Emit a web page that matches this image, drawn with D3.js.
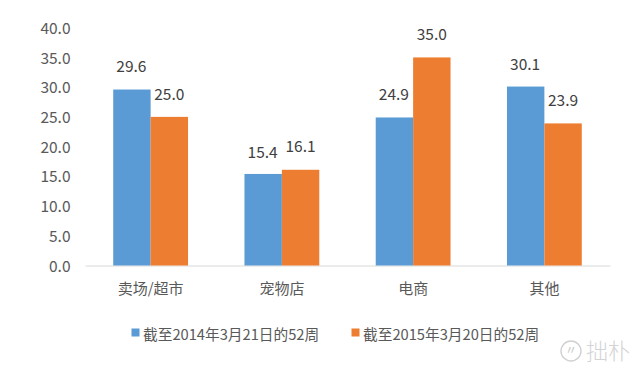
<!DOCTYPE html>
<html><head><meta charset="utf-8">
<script src="https://cdn.jsdelivr.net/npm/d3@7"></script>
<style>html,body{margin:0;padding:0;background:#fff}svg{display:block}
text{font-family:"Noto Sans CJK SC","Noto Sans",sans-serif}</style></head><body>
<svg id="c" width="640" height="367"></svg>
<script>
const categories=["卖场/超市","宠物店","电商","其他"];
const series2014=[29.6,15.4,24.9,30.1];
const series2015=[25.0,16.1,35.0,23.9];
const seriesNames=["截至2014年3月21日的52周","截至2015年3月20日的52周"];
const yTicks=[0,5,10,15,20,25,30,35,40];
const colors=["#5b9bd5","#ed7d31"];
const labelY2014=[72,157.5,100,70];
const labelY2015=[99.5,152,40,106];

const svg=d3.select("#c");
const y=d3.scaleLinear().domain([0,40]).range([265.5,27.7]);
const x=d3.scaleBand().domain(categories).range([85,610]);
const inner=d3.scaleBand().domain([0,1]).range([x.bandwidth()*0.215,x.bandwidth()*0.785]);

const gy=svg.append("g").attr("transform","translate(70.5,0)")
  .call(d3.axisLeft(y).tickValues(yTicks).tickFormat(d3.format(".1f")).tickSize(0).tickPadding(0));
gy.select(".domain").remove();
gy.selectAll("text").attr("font-size",15.5).attr("fill","#595959").attr("dy","0.36em");

const gx=svg.append("g").attr("transform","translate(0,265.5)")
  .call(d3.axisBottom(x).tickSize(0).tickPadding(0));
gx.select(".domain").attr("stroke","#d9d9d9").attr("stroke-width",1.2);
gx.selectAll("text").attr("font-size",15).attr("fill","#595959").attr("y",28.5).attr("dy","0");

[series2014,series2015].forEach((vals,si)=>{
  const g=svg.append("g");
  g.selectAll("rect").data(vals).join("rect")
    .attr("x",(d,i)=>x(categories[i])+inner(si))
    .attr("width",inner.bandwidth())
    .attr("y",d=>y(d))
    .attr("height",d=>y(0)-y(d))
    .attr("fill",colors[si]);
  g.selectAll("text").data(vals).join("text")
    .attr("x",(d,i)=>x(categories[i])+inner(si)+inner.bandwidth()/2-(si===0?0.5:0))
    .attr("y",(d,i)=>si===0?labelY2014[i]:labelY2015[i])
    .attr("text-anchor","middle").attr("font-size",15.5).attr("fill","#404040")
    .text(d=>d3.format(".1f")(d));
});

const lx=[131.5,351.5], tx=[143,363];
const lg=svg.append("g");
seriesNames.forEach((n,i)=>{
  lg.append("rect").attr("x",lx[i]).attr("y",328.5).attr("width",8).attr("height",8).attr("fill",colors[i]);
  lg.append("text").attr("x",tx[i]).attr("y",339.5).attr("font-size",14.7).attr("fill","#595959").text(n);
});

const wm=svg.append("g");
wm.append("circle").attr("cx",571).attr("cy",351).attr("r",10).attr("fill","none").attr("stroke","#d0d0d0").attr("stroke-width",1.4);
wm.append("text").attr("x",571).attr("y",355).attr("text-anchor","middle").attr("font-size",12).attr("fill","#c4c4c4").text("〃");
wm.append("text").attr("x",586).attr("y",359).attr("font-size",22).attr("font-weight",300).attr("fill","#d4d4d4").text("拙朴");
</script></body></html>
